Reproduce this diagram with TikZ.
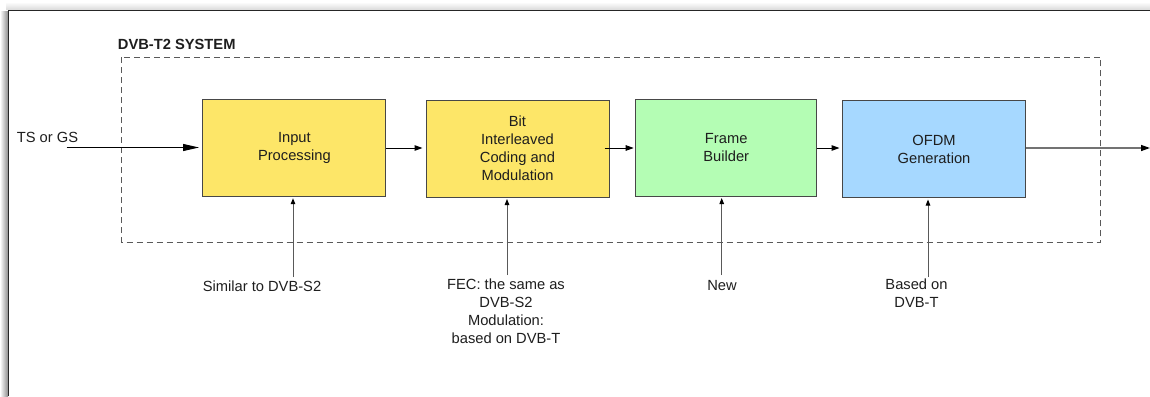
\documentclass[tikz,border=0pt]{standalone}
\usepackage{fontspec}
\setmainfont{Liberation Sans}
\usetikzlibrary{arrows.meta,calc}
\definecolor{boxyellow}{HTML}{FDE668}
\definecolor{boxgreen}{HTML}{B4FDB4}
\definecolor{boxblue}{HTML}{A6D8FF}
\definecolor{txt}{HTML}{1E1E1E}
\tikzset{
  lbl/.style={font=\fontsize{14.7}{18}\selectfont, text=txt, align=center, inner sep=0pt},
  blk/.style={lbl, draw=black!72, line width=1pt, minimum width=183pt, minimum height=97pt},
  bigarrow/.style={-{Triangle[length=16pt,width=7pt]}, line width=1pt, black},
  flowarrow/.style={-{Triangle[length=8pt,width=5.5pt]}, line width=1pt, black},
  notearrow/.style={-{Triangle[length=6pt,width=4.5pt,color=black]}, line width=1pt, black!65},
  outarrow/.style={-{Triangle[length=9pt,width=6pt,color=black]}, line width=1.3pt, black!55},
  sysbox/.style={draw=black!65, line width=0.9pt, dash pattern=on 6pt off 4pt}
}
\begin{document}
\begin{tikzpicture}[x=1pt,y=-1pt]
\useasboundingbox (0,0) rectangle (1150,396);
\fill[white] (0,0) rectangle (1150,396);
% frame shadow
\shade[left color=white, right color=black!45] (0,12) rectangle (8,396);
\shade[top color=white, bottom color=black!15] (6,2) rectangle (1150,10);
\draw[black!85, line width=1.6pt] (8.5,396) -- (8.5,10.5) -- (1150,10.5);
% system box
\draw[sysbox] (121.7,57.3) rectangle (1100.7,242.3);
\node[lbl, font=\fontsize{14.7}{18}\selectfont\bfseries] (title) at (176.7,44.7) {DVB-T2 SYSTEM};
% blocks
\node[blk, fill=boxyellow] (ip) at (294.4,147.7) {Input\\Processing};
\node[blk, fill=boxyellow] (bic) at (517.5,148.5) {Bit\\Interleaved\\Coding and\\Modulation};
\node[blk, fill=boxgreen, minimum width=181pt] (fb) at (726.2,147.5) {Frame\\Builder};
\node[blk, fill=boxblue] (ofdm) at (934,149) {OFDM\\Generation};
% input / output
\node[lbl] (ts) at (47.5,137.2) {TS or GS};
\coordinate (tsin) at (66.7,147.5);
\coordinate (out) at (1150,148);
\draw[bigarrow, shorten >=3.4pt] (tsin) -- (tsin -| ip.west);
\draw[flowarrow, shorten >=3pt] (ip.east |- 0,148) -- (bic.west |- 0,148);
\draw[flowarrow, shorten >=1.5pt] ([xshift=-5pt]bic.east |- 0,148) -- (fb.west |- 0,148);
\draw[flowarrow, shorten >=2.5pt] (fb.east |- 0,148) -- (ofdm.west |- 0,148);
\draw[outarrow] (ofdm.east |- out) -- (out);
% notes
\node[lbl] (n1) at (262,286.7) {Similar to DVB-S2};
\node[lbl] (n2) at (506,311) {FEC: the same as\\DVB-S2\\Modulation:\\based on DVB-T};
\node[lbl] (n3) at (722,286) {New};
\node[lbl] (n4) at (916.5,293.5) {Based on\\DVB-T};
\coordinate (a1) at (293,277);
\coordinate (a2) at (507,275);
\coordinate (a3) at (721.7,275);
\coordinate (a4) at (928,277);
\draw[notearrow, shorten >=1.5pt] (a1) -- (a1 |- ip.south);
\draw[notearrow, shorten >=1.5pt] (a2) -- (a2 |- bic.south);
\draw[notearrow, shorten >=1.5pt] (a3) -- (a3 |- fb.south);
\draw[notearrow, shorten >=1.5pt] (a4) -- (a4 |- ofdm.south);
\end{tikzpicture}
\end{document}
